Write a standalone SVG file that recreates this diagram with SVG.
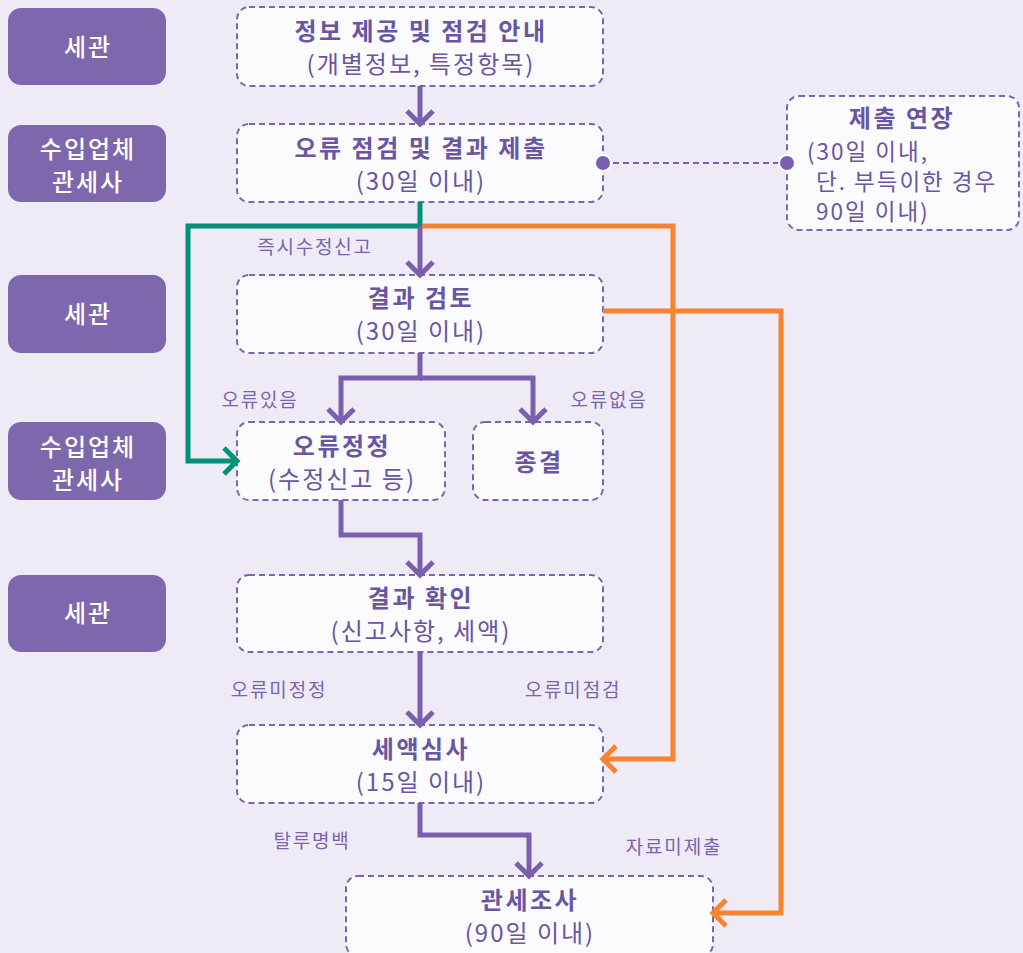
<svg xmlns="http://www.w3.org/2000/svg" width="1023" height="953" viewBox="0 0 1023 953">
<style>
.role{fill:#7d67ad}
.roletxt{fill:#ffffff;font-family:"Noto Sans CJK KR","Noto Sans",sans-serif;font-size:24px;font-weight:500;text-anchor:middle;letter-spacing:2px}
.box{fill:#fbfafd;stroke:#7b65ae;stroke-width:2;stroke-dasharray:6 4}
.t{fill:#6a55a2;font-family:"Noto Sans CJK KR","Noto Sans",sans-serif;font-size:24px;font-weight:700;text-anchor:middle;letter-spacing:2.5px}
.s{fill:#6a55a2;font-family:"Noto Sans CJK KR","Noto Sans",sans-serif;font-size:24px;font-weight:400;text-anchor:middle;letter-spacing:2px}
.s2{fill:#6a55a2;font-family:"Noto Sans CJK KR","Noto Sans",sans-serif;font-size:22.5px;font-weight:400;letter-spacing:2px}
.lbl{fill:#7a64ad;font-family:"Noto Sans CJK KR","Noto Sans",sans-serif;font-size:19px;font-weight:400;text-anchor:middle;letter-spacing:1.8px}
.p{fill:none;stroke:#7a5fae;stroke-width:5}
.g{fill:none;stroke:#00917a;stroke-width:5}
.o{fill:none;stroke:#f5832f;stroke-width:5}
</style>
<defs>
<marker id="ap" markerUnits="userSpaceOnUse" viewBox="0 0 30 30" markerWidth="30" markerHeight="30" refX="26" refY="15" orient="auto">
<path d="M13,2 L26,15 L13,28" fill="none" stroke="#7a5fae" stroke-width="5"/>
</marker>
<marker id="ag" markerUnits="userSpaceOnUse" viewBox="0 0 30 30" markerWidth="30" markerHeight="30" refX="26" refY="15" orient="auto">
<path d="M13,2 L26,15 L13,28" fill="none" stroke="#00917a" stroke-width="5"/>
</marker>
<marker id="ao" markerUnits="userSpaceOnUse" viewBox="0 0 30 30" markerWidth="30" markerHeight="30" refX="26" refY="15" orient="auto">
<path d="M13,2 L26,15 L13,28" fill="none" stroke="#f5832f" stroke-width="5"/>
</marker>
</defs>
<rect x="0" y="0" width="1023" height="953" fill="#efebf6"/>

<g id="roles">
<g id="role1"><rect class="role" x="8" y="8" width="158" height="77" rx="13"/><text class="roletxt" x="88" y="56">세관</text></g>
<g id="role2"><rect class="role" x="8" y="125" width="158" height="77" rx="13"/><text class="roletxt" x="88" y="158">수입업체</text><text class="roletxt" x="88" y="191">관세사</text></g>
<g id="role3"><rect class="role" x="8" y="275" width="158" height="78" rx="13"/><text class="roletxt" x="88" y="323">세관</text></g>
<g id="role4"><rect class="role" x="8" y="422" width="158" height="78" rx="13"/><text class="roletxt" x="88" y="456">수입업체</text><text class="roletxt" x="88" y="489">관세사</text></g>
<g id="role5"><rect class="role" x="8" y="575" width="158" height="77" rx="13"/><text class="roletxt" x="88" y="622">세관</text></g>
</g>

<g id="n1"><rect class="box" x="237" y="7" width="366" height="79" rx="12"/><text class="t" x="421" y="40">정보 제공 및 점검 안내</text><text class="s" x="421" y="73">(개별정보, 특정항목)</text></g>
<g id="n2"><rect class="box" x="237" y="124" width="366" height="78" rx="12"/><text class="t" x="421" y="157">오류 점검 및 결과 제출</text><text class="s" x="421" y="190">(30일 이내)</text></g>
<g id="n3"><rect class="box" x="237" y="275" width="366" height="78" rx="12"/><text class="t" x="421" y="307">결과 검토</text><text class="s" x="421" y="340">(30일 이내)</text></g>
<g id="n4"><rect class="box" x="237" y="422" width="208" height="78" rx="12"/><text class="t" x="342" y="455">오류정정</text><text class="s" x="342" y="488">(수정신고 등)</text></g>
<g id="n5"><rect class="box" x="473" y="422" width="130" height="78" rx="12"/><text class="t" x="539" y="471">종결</text></g>
<g id="n6"><rect class="box" x="237" y="575" width="366" height="77" rx="12"/><text class="t" x="421" y="607">결과 확인</text><text class="s" x="421" y="640">(신고사항, 세액)</text></g>
<g id="n7"><rect class="box" x="237" y="725" width="366" height="78" rx="12"/><text class="t" x="421" y="758">세액심사</text><text class="s" x="421" y="791">(15일 이내)</text></g>
<g id="n8"><rect class="box" x="346" y="876" width="367" height="80" rx="12"/><text class="t" x="530" y="909">관세조사</text><text class="s" x="530" y="942">(90일 이내)</text></g>
<g id="n9"><rect class="box" x="787" y="96" width="232" height="134" rx="12"/><text class="t" x="902" y="127">제출 연장</text><text class="s2" x="807" y="160">(30일 이내,</text><text class="s2" x="816" y="190">단. 부득이한 경우</text><text class="s2" x="816" y="220">90일 이내)</text></g>

<g id="connectors">
<path class="p" d="M420,86 V124" marker-end="url(#ap)"/>
<path class="g" d="M420,202 V226 H188 V461 H237" marker-end="url(#ag)"/>
<path class="p" d="M420,226 V275" marker-end="url(#ap)"/>
<path class="o" d="M422,226 H673 V759 H603" marker-end="url(#ao)"/>
<path class="o" d="M603,311 H781 V913 H713" marker-end="url(#ao)"/>
<path class="p" d="M420,353 V378 H341 V422" marker-end="url(#ap)"/>
<path class="p" d="M420,378 H533 V422" marker-end="url(#ap)"/>
<path class="p" d="M341,500 V535 H420 V575" marker-end="url(#ap)"/>
<path class="p" d="M420,652 V725" marker-end="url(#ap)"/>
<path class="p" d="M420,803 V835 H529 V876" marker-end="url(#ap)"/>
<path d="M603,163 H787" fill="none" stroke="#7a5fae" stroke-width="2" stroke-dasharray="6 4"/>
<circle cx="603" cy="163" r="8" fill="#7a5fae" stroke="#ffffff" stroke-width="2"/>
<circle cx="787" cy="163" r="8" fill="#7a5fae" stroke="#ffffff" stroke-width="2"/>
<text class="lbl" x="315" y="254">즉시수정신고</text>
<text class="lbl" x="260" y="407">오류있음</text>
<text class="lbl" x="609" y="407">오류없음</text>
<text class="lbl" x="279" y="697">오류미정정</text>
<text class="lbl" x="573" y="697">오류미점검</text>
<text class="lbl" x="312" y="848">탈루명백</text>
<text class="lbl" x="674" y="854">자료미제출</text>
</g>
</svg>
